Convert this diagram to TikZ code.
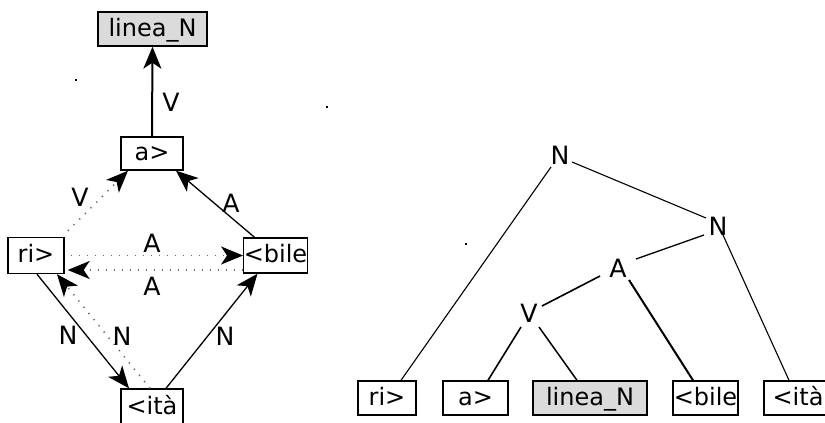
\documentclass[tikz,border=0pt]{standalone}
\usepackage{fontspec}
\setmainfont{DejaVu Sans}
\usetikzlibrary{arrows.meta}
\begin{document}
\begin{tikzpicture}[x=0.5pt, y=-0.5pt,
  font=\fontsize{12}{14}\selectfont,
  box/.style={draw, line width=0.7pt, inner sep=0pt, fill=white,
    text height=0.73em, text depth=0pt},
  headbox/.style={box, fill=black!14},
  tip/.style={-{Stealth[length=11pt, width=9pt, inset=3pt, color=black]}},
  solidarr/.style={tip, line width=0.65pt},
  dotarr/.style={tip, line width=0.8pt, black!60, dash pattern=on 0.6pt off 3.4pt},
  branch/.style={line width=0.55pt},
  lbl/.style={inner sep=0pt, font=\fontsize{12.6}{15}\selectfont}
]
\clip (0,0) rectangle (825,423);
\fill[white] (0,0) rectangle (825,423);

% ---------- dependency graph ----------
\node[headbox, minimum width=54.5pt, minimum height=17pt] (topL) at (152.5,29) {linea\_N};
\node[box, minimum width=31pt, minimum height=16.5pt] (aL) at (152,153.5) {a>};
\node[box, minimum width=28pt, minimum height=18pt] (riL) at (36,255.5) {ri>};
\node[box, minimum width=31.5pt, minimum height=17.5pt] (bileL) at (275.5,255.5) {<bile};
\node[box, minimum width=31pt, minimum height=18pt] (itaL) at (152,407) {<ità};

\draw[tip, line width=1pt] (aL.north) -- (topL.south);
\draw[solidarr] ([shift={(-21,0)}]bileL.north) -- ([shift={(24,0)}]aL.south);
\draw[dotarr] ([shift={(32,-6)}]riL.north) -- ([shift={(-24,0)}]aL.south);
\draw[dotarr] ([shift={(6,0)}]riL.east) -- (bileL.west);
\draw[dotarr] ([shift={(0,14.5)}]bileL.west) -- ([shift={(3,14.5)}]riL.east);
\draw[solidarr] ([shift={(1,0)}]riL.south) -- ([shift={(-23,0)}]itaL.north);
\draw[dotarr] ([shift={(-2,0)}]itaL.north) -- ([shift={(21,0)}]riL.south);
\draw[solidarr] ([shift={(14,0)}]itaL.north) -- ([shift={(-18,0)}]bileL.south);

\node[lbl] (lV1) at (171,102) {V};
\node[lbl] (lV2) at (80,197) {V};
\node[lbl] (lA1) at (231,203) {A};
\node[lbl] (lA2) at (152,243) {A};
\node[lbl] (lA3) at (152,286) {A};
\node[lbl] (lN1) at (68,335) {N};
\node[lbl] (lN2) at (122,336) {N};
\node[lbl] (lN3) at (225,336) {N};

% ---------- constituent tree ----------
\node[box, minimum width=29pt, minimum height=17pt] (riR) at (387,398) {ri>};
\node[box, minimum width=32.5pt, minimum height=17pt] (aR) at (475.5,398) {a>};
\node[headbox, minimum width=57pt, minimum height=17pt] (linR) at (590,398) {linea\_N};
\node[box, minimum width=32.5pt, minimum height=17pt] (bileR) at (705.5,398) {<bile};
\node[box, minimum width=34pt, minimum height=17pt] (itaR) at (798,398) {<ità};

\node[lbl] (nT) at (560,155) {N};
\node[lbl] (nM) at (718,226) {N};
\node[lbl] (aT) at (618,268) {A};
\node[lbl] (vT) at (529,313) {V};

\draw[branch] ([shift={(-9,12)}]nT.center) -- ([shift={(14,0)}]riR.north);
\draw[branch] ([shift={(12,7)}]nT.center) -- ([shift={(-12,-8)}]nM.center);
\draw[branch, line width=0.65pt] ([shift={(-14,9)}]nM.center) -- ([shift={(18,-9)}]aT.center);
\draw[branch] ([shift={(5,9)}]nM.center) -- ([shift={(-9,0)}]itaR.north);
\draw[branch, line width=0.8pt] ([shift={(-18,8)}]aT.center) -- ([shift={(13,-7)}]vT.center);
\draw[branch, line width=1pt] ([shift={(11,12)}]aT.center) -- ([shift={(-12.5,0)}]bileR.north);
\draw[branch, line width=0.8pt] ([shift={(-8,14)}]vT.center) -- ([shift={(12.5,0)}]aR.north);
\draw[branch, line width=0.75pt] ([shift={(10,14)}]vT.center) -- ([shift={(-13,0)}]linR.north);

% ---------- small stray marks ----------
\fill (75,79) rectangle (77,81);
\fill (326,106) rectangle (328,108);
\fill (465,243) rectangle (467,245);
\end{tikzpicture}
\end{document}
